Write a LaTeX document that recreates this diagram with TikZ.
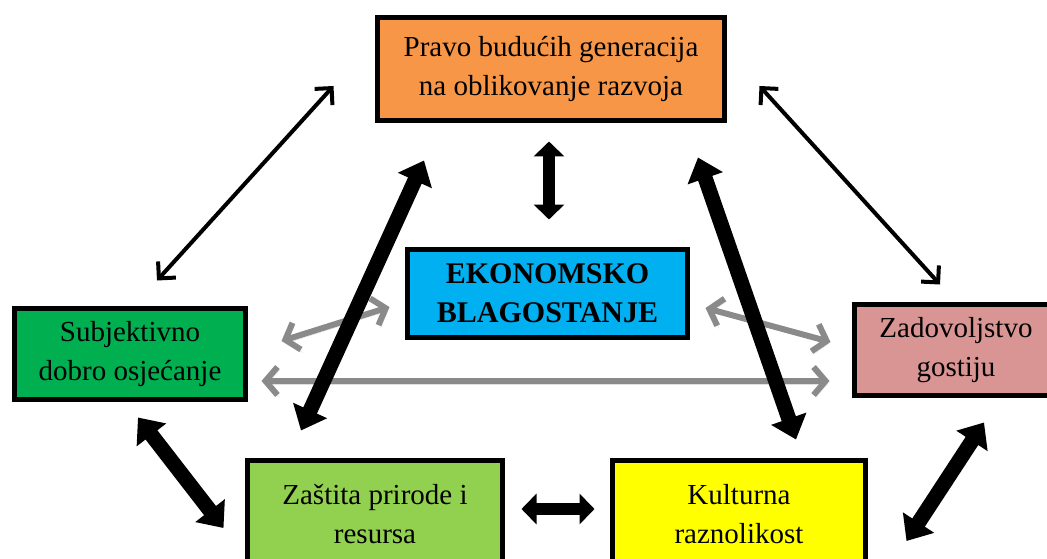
\documentclass[tikz,border=0pt]{standalone}
\usepackage{fontspec}
\setmainfont{Liberation Serif}
\usetikzlibrary{arrows.meta}
\definecolor{narandzasta}{HTML}{F79646}
\definecolor{plava}{HTML}{00B0F0}
\definecolor{zelena}{HTML}{00B050}
\definecolor{roza}{HTML}{D99594}
\definecolor{svijetlozelena}{HTML}{92D050}
\definecolor{zuta}{HTML}{FFFF00}
\definecolor{siva}{HTML}{8A8A8A}
\begin{document}
\begin{tikzpicture}[x=1pt,y=-1pt,
	kutija/.style={draw,line width=5pt,align=center,inner sep=0pt,font=\fontsize{29}{39}\selectfont},
	tanka/.style={line width=4pt,{Straight Barb[length=12pt,width=24pt]}-{Straight Barb[length=12pt,width=24pt]}},
	debela/.style={line width=15pt,{Triangle[length=22pt,width=36pt]}-{Triangle[length=22pt,width=36pt]}},
	kratka/.style={line width=12pt,{Triangle[length=15pt,width=30pt]}-{Triangle[length=15pt,width=30pt]}},
	sivastr/.style={line width=6pt,siva,{Straight Barb[length=12pt,width=28pt]}-{Straight Barb[length=12pt,width=28pt]},
		preaction={draw=black!12,transform canvas={shift={(2,3)}}}}]
	\useasboundingbox (0,0) rectangle (1047,559);
	\clip (0,0) rectangle (1047,559);
	\node[kutija,fill=narandzasta,minimum width=347,minimum height=103] (prava) at (551,69) {Pravo budućih generacija\\na oblikovanje razvoja};
	\node[kutija,fill=plava,minimum width=280,minimum height=88,font=\fontsize{30}{39}\selectfont\bfseries] (eko) at (547.5,293.5) {EKONOMSKO\\BLAGOSTANJE};
	\node[kutija,fill=zelena,minimum width=231,minimum height=91] (subj) at (130,354) {Subjektivno\\dobro osjećanje};
	\node[kutija,fill=roza,minimum width=203,minimum height=91] (zad) at (956,350) {Zadovoljstvo\\gostiju};
	\node[kutija,fill=svijetlozelena,minimum width=255,minimum height=107] (zas) at (375,514) {Zaštita prirode i\\resursa};
	\node[kutija,fill=zuta,minimum width=253,minimum height=107] (kult) at (739,514) {Kulturna\\raznolikost};
	\draw[tanka] ([shift={(-41.5,17)}]prava.west) -- ([shift={(27,-25.5)}]subj.north);
	\draw[tanka] ([shift={(32.5,17)}]prava.east) -- ([shift={(-16,-17.5)}]zad.north);
	\draw[kratka] ([shift={(-2,18.5)}]prava.south) -- ([shift={(1.5,-27.5)}]eko.north);
	\draw[sivastr] ([shift={(33.5,-13)}]subj.east) -- ([shift={(-15.5,13.5)}]eko.west);
	\draw[sivastr] ([shift={(15.5,14.5)}]eko.east) -- ([shift={(-21.5,-8)}]zad.west);
	\draw[sivastr] ([shift={(13.5,27)}]subj.east) -- ([shift={(-22.5,31)}]zad.west);
	\draw[debela] ([shift={(-74,-27.5)}]zas.north) -- ([shift={(-127,37.5)}]prava.south);
	\draw[debela] ([shift={(57,-18.5)}]kult.north) -- ([shift={(147,34.5)}]prava.south);
	\draw[debela] ([shift={(8,15.5)}]subj.south) -- ([shift={(-21.5,14)}]zas.west);
	\draw[kratka] ([shift={(16.5,-5)}]zas.east) -- ([shift={(-15.5,-5)}]kult.west);
	\draw[debela] ([shift={(28,24.5)}]zad.south) -- ([shift={(38.5,27)}]kult.east);
\end{tikzpicture}
\end{document}
